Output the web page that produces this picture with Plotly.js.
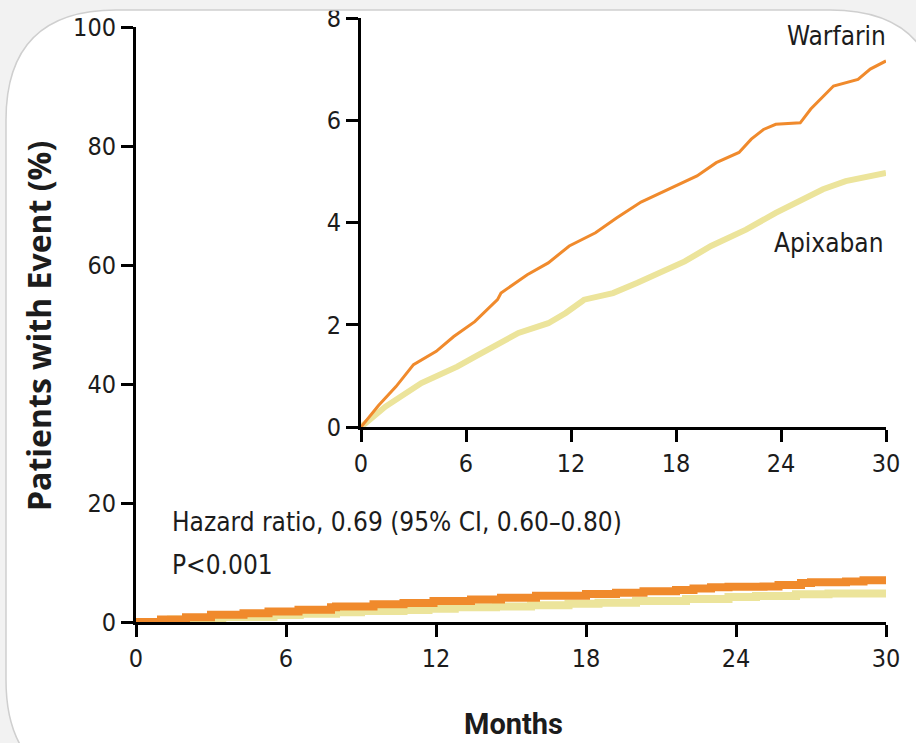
<!DOCTYPE html>
<html>
<head>
<meta charset="utf-8">
<script src="https://cdn.plot.ly/plotly-3.0.1.min.js"></script>
<style>
html,body{margin:0;padding:0;background:#ffffff;}
#chart{width:916px;height:743px;}
</style>
</head>
<body>
<div id="chart"></div>
<script>
// ---- Data ----
const warfarinMonths = [0, 1.0, 2.0, 3.0, 4.3, 5.3, 6.5, 7.8, 8.0, 9.5, 10.7, 11.9, 13.4, 14.6, 16.0, 18.0, 19.2, 20.3, 21.6, 22.3, 23.0, 23.7, 25.1, 25.7, 26.6, 27.0, 28.4, 29.1, 30];
const warfarinPct    = [0, 0.42, 0.79, 1.22, 1.48, 1.77, 2.06, 2.49, 2.62, 2.98, 3.21, 3.54, 3.80, 4.09, 4.40, 4.71, 4.91, 5.17, 5.37, 5.63, 5.82, 5.92, 5.95, 6.22, 6.54, 6.67, 6.80, 7.00, 7.16];
const apixabanMonths = [0, 1.4, 3.45, 5.5, 6.55, 8.0, 9.0, 10.7, 11.7, 12.75, 14.4, 15.8, 17.3, 18.5, 20.0, 22.0, 23.7, 24.8, 26.4, 27.7, 30];
const apixabanPct    = [0, 0.40, 0.86, 1.18, 1.38, 1.64, 1.84, 2.03, 2.23, 2.49, 2.62, 2.82, 3.05, 3.24, 3.54, 3.86, 4.19, 4.38, 4.65, 4.81, 4.97];
const monthTicks = [0, 6, 12, 18, 24, 30];
const mainYTicks = [0, 20, 40, 60, 80, 100];
const insetYTicks = [0, 2, 4, 6, 8];
const seriesNames = ["Warfarin", "Apixaban"];
const hazardText = "Hazard ratio, 0.69 (95% CI, 0.60–0.80)";
const pText = "P<0.001";
const yTitle = "Patients with Event (%)";
const xTitle = "Months";

// ---- Styling ----
const W = 916, H = 743;
const fx = px => px / W;
const fy = py => 1 - py / H;
const ORANGE = "#f08a2c";
const YELLOW = "#ece49b";
const INK = "#1c1c1c";
const tickFont = {family: "DejaVu Sans Condensed, sans-serif", size: 25, color: INK};
const labelFont = {family: "DejaVu Sans Condensed, sans-serif", size: 26, color: INK};

const axisCommon = {
  showgrid: false, zeroline: false, showline: true, linecolor: "#000", linewidth: 3,
  ticks: "outside", ticklen: 12, tickwidth: 3, tickcolor: "#000",
  tickfont: tickFont, fixedrange: true
};

const traces = [
  {x: apixabanMonths, y: apixabanPct, xaxis: "x", yaxis: "y", mode: "lines", name: seriesNames[1],
   line: {color: YELLOW, width: 8, shape: "hv"}, cliponaxis: false, hoverinfo: "skip"},
  {x: warfarinMonths, y: warfarinPct, xaxis: "x", yaxis: "y", mode: "lines", name: seriesNames[0],
   line: {color: ORANGE, width: 8, shape: "hv"}, cliponaxis: false, hoverinfo: "skip"},
  {x: apixabanMonths, y: apixabanPct, xaxis: "x2", yaxis: "y2", mode: "lines", name: seriesNames[1],
   line: {color: YELLOW, width: 6}, cliponaxis: false, hoverinfo: "skip"},
  {x: warfarinMonths, y: warfarinPct, xaxis: "x2", yaxis: "y2", mode: "lines", name: seriesNames[0],
   line: {color: ORANGE, width: 3}, cliponaxis: false, hoverinfo: "skip"}
];

// rounded card frame (decorative background of the screenshot)
function P(x, y){ return fx(x).toFixed(5) + "," + fy(y).toFixed(5); }
const outer = "M" + P(0,0) + " L" + P(W,0) + " L" + P(W,H) + " L" + P(0,H) + " Z";
const x0 = 6, y0 = 10, x1 = 940, y1 = 790, r = 110;
const inner = "M" + P(x0 + r, y0) + " L" + P(x1 - r, y0) + " Q" + P(x1, y0) + " " + P(x1, y0 + r) +
  " L" + P(x1, y1 - r) + " Q" + P(x1, y1) + " " + P(x1 - r, y1) +
  " L" + P(x0 + r, y1) + " Q" + P(x0, y1) + " " + P(x0, y1 - r) +
  " L" + P(x0, y0 + r) + " Q" + P(x0, y0) + " " + P(x0 + r, y0) + " Z";

const layout = {
  width: W, height: H,
  margin: {l: 0, r: 0, t: 0, b: 0, pad: 0},
  paper_bgcolor: "#ffffff", plot_bgcolor: "rgba(0,0,0,0)",
  showlegend: false,
  xaxis: Object.assign({}, axisCommon, {domain: [fx(136), fx(886)], range: [0, 30], tickvals: monthTicks, anchor: "y"}),
  yaxis: Object.assign({}, axisCommon, {domain: [fy(622), fy(27)], range: [0, 100], tickvals: mainYTicks, anchor: "x"}),
  xaxis2: Object.assign({}, axisCommon, {domain: [fx(361), fx(886)], range: [0, 30], tickvals: monthTicks, anchor: "y2"}),
  yaxis2: Object.assign({}, axisCommon, {domain: [fy(427), fy(18)], range: [0, 8], tickvals: insetYTicks, anchor: "x2"}),
  shapes: [
    {type: "path", xref: "paper", yref: "paper", path: outer + " " + inner, fillrule: "evenodd",
     fillcolor: "#f2f2f2", line: {width: 0}, layer: "above"},
    {type: "path", xref: "paper", yref: "paper", path: inner, fillcolor: "rgba(0,0,0,0)",
     line: {color: "#cfcfcf", width: 1.5}, layer: "above"}
  ],
  annotations: [
    {text: seriesNames[0], xref: "paper", yref: "paper", x: fx(888), y: fy(36), xanchor: "right", yanchor: "middle", showarrow: false, font: labelFont},
    {text: seriesNames[1], xref: "paper", yref: "paper", x: fx(886), y: fy(243), xanchor: "right", yanchor: "middle", showarrow: false, font: labelFont},
    {text: hazardText, xref: "paper", yref: "paper", x: fx(170), y: fy(522), xanchor: "left", yanchor: "middle", showarrow: false, font: labelFont},
    {text: pText, xref: "paper", yref: "paper", x: fx(170), y: fy(565), xanchor: "left", yanchor: "middle", showarrow: false, font: labelFont},
    {text: yTitle, xref: "paper", yref: "paper", x: fx(38), y: fy(326), xanchor: "center", yanchor: "middle", textangle: -90, showarrow: false,
     font: {family: "Open Sans, Noto Sans, sans-serif", size: 32, color: INK, weight: 700}},
    {text: xTitle, xref: "paper", yref: "paper", x: fx(513), y: fy(724), xanchor: "center", yanchor: "middle", showarrow: false,
     font: {family: "Roboto, sans-serif", size: 29, color: INK, weight: 700}}
  ]
};

Plotly.newPlot("chart", traces, layout, {staticPlot: true, displayModeBar: false});
</script>
</body>
</html>
